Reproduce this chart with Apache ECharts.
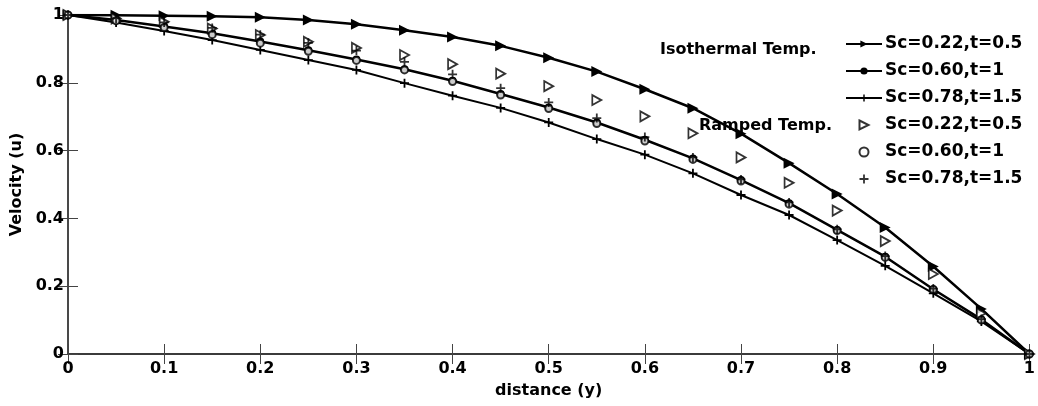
<!DOCTYPE html>
<html>
<head>
<meta charset="utf-8">
<script src="https://cdn.jsdelivr.net/npm/echarts@6/dist/echarts.min.js"></script>
<style>
html,body{margin:0;padding:0;background:#fff;}
#chart{width:1038px;height:406px;}
</style>
</head>
<body>
<div id="chart"></div>
<script>
// ---- data ----
const distance = [0,0.05,0.1,0.15,0.2,0.25,0.3,0.35,0.4,0.45,0.5,0.55,0.6,0.65,0.7,0.75,0.8,0.85,0.9,0.95,1];
const isoSc022 = [1,0.999,0.998,0.996,0.993,0.985,0.973,0.955,0.935,0.909,0.874,0.833,0.781,0.725,0.650,0.563,0.472,0.373,0.258,0.133,0];
const isoSc060 = [1,0.985,0.966,0.946,0.922,0.896,0.869,0.840,0.806,0.767,0.727,0.683,0.632,0.577,0.513,0.445,0.366,0.287,0.191,0.102,0];
const isoSc078 = [1,0.978,0.953,0.926,0.897,0.867,0.838,0.799,0.762,0.726,0.683,0.634,0.588,0.533,0.469,0.410,0.336,0.260,0.179,0.096,0];
const rampSc022 = [1,0.990,0.980,0.960,0.941,0.921,0.903,0.882,0.855,0.827,0.790,0.749,0.701,0.651,0.580,0.505,0.423,0.333,0.236,0.120,0];
const rampSc060 = [1,0.983,0.963,0.942,0.917,0.893,0.866,0.838,0.804,0.764,0.724,0.680,0.628,0.574,0.510,0.442,0.364,0.285,0.190,0.100,0];
const rampSc078 = [1,0.990,0.978,0.962,0.942,0.918,0.895,0.862,0.825,0.784,0.742,0.696,0.640,0.580,0.515,0.447,0.368,0.289,0.193,0.103,0];
const legendNames = ['Sc=0.22,t=0.5','Sc=0.60,t=1','Sc=0.78,t=1.5'];
const noteIso = 'Isothermal Temp.';
const noteRamp = 'Ramped Temp.';

// ---- build ----
const pair = arr => distance.map((x,i)=>[x,arr[i]]);
const FONT = '"DejaVu Sans", Verdana, sans-serif';
const PLUS = 'path://M4,0H6V10H4ZM0,4H10V6H0Z';
const TRI_R = 'path://M0,0L10,5L0,10Z';
const fmt = v => (v===0||v===1) ? String(v) : String(+v.toFixed(1));

const chart = echarts.init(document.getElementById('chart'), null, {renderer:'canvas'});
const axisCommon = {
  type:'value', min:0, max:1, interval:0.1,
  splitLine:{show:false}
};
const option = {
  animation:false,
  backgroundColor:'#fff',
  grid:{left:68, right:5, top:15, bottom:52, containLabel:false},
  xAxis:[
    Object.assign({}, axisCommon, {
      position:'bottom',
      name:'distance (y)', nameLocation:'middle', nameGap:29,
      nameTextStyle:{fontFamily:FONT, fontWeight:'bold', fontSize:16, color:'#000'},
      axisLine:{lineStyle:{color:'#666', width:1.5}},
      axisTick:{inside:true, length:10, lineStyle:{color:'#444'}},
      axisLabel:{margin:7, fontFamily:FONT, fontWeight:'bold', fontSize:16, color:'#000', formatter:fmt}
    }),
    Object.assign({}, axisCommon, {
      position:'top',
      axisLine:{lineStyle:{color:'#222', width:1.5}},
      axisTick:{inside:true, length:10, lineStyle:{color:'#444'}},
      axisLabel:{show:false}
    })
  ],
  yAxis:[
    {
      type:'value', min:0, max:1, interval:0.2, splitLine:{show:false},
      position:'left',
      name:'Velocity (u)', nameLocation:'middle', nameGap:38, nameRotate:90,
      nameTextStyle:{fontFamily:FONT, fontWeight:'bold', fontSize:16, color:'#000'},
      axisLine:{show:true, lineStyle:{color:'#666', width:1.5}},
      axisTick:{show:true, inside:true, length:10, lineStyle:{color:'#444'}},
      axisLabel:{margin:4, fontFamily:FONT, fontWeight:'bold', fontSize:16, color:'#000', formatter:fmt}
    },
    {
      type:'value', min:0, max:1, interval:0.2, splitLine:{show:false},
      position:'right',
      axisLine:{show:true, lineStyle:{color:'#333', width:1.5}},
      axisTick:{show:true, inside:true, length:10, lineStyle:{color:'#444'}},
      axisLabel:{show:false}
    }
  ],
  legend:{
    orient:'vertical', left:840, top:30,
    itemWidth:36, itemHeight:9, itemGap:9,
    textStyle:{fontFamily:FONT, fontWeight:'bold', fontSize:17, color:'#000', lineHeight:18, padding:[0,0,0,-2]},
    data:[
      {name:legendNames[0]+' '},
      {name:legendNames[1]+' '},
      {name:legendNames[2]+' '},
      {name:legendNames[0]},
      {name:legendNames[1]},
      {name:legendNames[2]}
    ],
    formatter: n => n.trim()
  },
  graphic:[
    {type:'text', left:660, top:42, style:{text:noteIso, font:'bold 16px '+FONT, fill:'#000'}, z:100},
    {type:'text', left:699, top:118, style:{text:noteRamp, font:'bold 16px '+FONT, fill:'#000'}, z:100}
  ],
  series:[
    {
      name:legendNames[0]+' ', type:'line', data:pair(isoSc022),
      symbol:TRI_R, symbolSize:[11,11], showAllSymbol:true,
      lineStyle:{color:'#000', width:2.5}, itemStyle:{color:'#000'}, z:3
    },
    {
      name:legendNames[1]+' ', type:'line', data:pair(isoSc060),
      symbol:'circle', symbolSize:8, showAllSymbol:true,
      lineStyle:{color:'#000', width:2.5}, itemStyle:{color:'#000'}, z:3
    },
    {
      name:legendNames[2]+' ', type:'line', data:pair(isoSc078),
      symbol:PLUS, symbolSize:9, showAllSymbol:true,
      lineStyle:{color:'#000', width:2}, itemStyle:{color:'#000'}, z:3
    },
    {
      name:legendNames[0], type:'scatter', data:pair(rampSc022),
      symbol:TRI_R, symbolSize:[9,10],
      itemStyle:{color:'#fff', borderColor:'#000', borderWidth:1.8}, z:4
    },
    {
      name:legendNames[1], type:'scatter', data:pair(rampSc060),
      symbol:'emptyCircle', symbolSize:7,
      itemStyle:{color:'#000', borderColor:'#000', borderWidth:1.6}, z:4
    },
    {
      name:legendNames[2], type:'scatter', data:pair(rampSc078),
      symbol:PLUS, symbolSize:9,
      itemStyle:{color:'#000'}, z:4
    }
  ]
};
chart.setOption(option);
</script>
</body>
</html>
